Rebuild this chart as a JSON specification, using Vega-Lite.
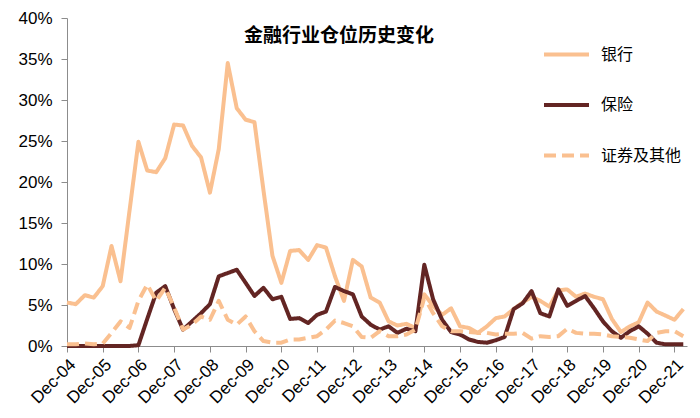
{
  "$schema": "https://vega.github.io/schema/vega-lite/v6.json",
  "autosize": "none",
  "width": 620,
  "height": 328,
  "padding": {"left": 67, "top": 18, "right": 13, "bottom": 72},
  "background": "white",
  "config": {"view": {"stroke": null}},
  "title": {"text": "金融行业仓位历史变化", "font": "Noto Sans CJK SC", "fontSize": 19, "fontWeight": "bold", "color": "#000000", "anchor": "middle", "baseline": "top", "offset": 0, "dx": -38, "dy": 37},
  "data": {"values": [
    {"d":"2004-12-01","银行":5.3,"保险":0,"证券及其他":0.2},
    {"d":"2005-03-01","银行":5.1,"保险":0,"证券及其他":0.2},
    {"d":"2005-06-01","银行":6.2,"保险":0,"证券及其他":0.3},
    {"d":"2005-09-01","银行":5.9,"保险":0,"证券及其他":0.2},
    {"d":"2005-12-01","银行":7.3,"保险":0,"证券及其他":0.3},
    {"d":"2006-03-01","银行":12.2,"保险":0,"证券及其他":1.6},
    {"d":"2006-06-01","银行":7.9,"保险":0,"证券及其他":3.0},
    {"d":"2006-09-01","银行":16.5,"保险":0,"证券及其他":2.2},
    {"d":"2006-12-01","银行":24.9,"保险":0.1,"证券及其他":5.5},
    {"d":"2007-03-01","银行":21.4,"保险":3.3,"证券及其他":7.5},
    {"d":"2007-06-01","银行":21.2,"保险":6.5,"证券及其他":5.5},
    {"d":"2007-09-01","银行":22.9,"保险":7.3,"证券及其他":7.1},
    {"d":"2007-12-01","银行":27.0,"保险":4.5,"证券及其他":4.7},
    {"d":"2008-03-01","银行":26.9,"保险":2.0,"证券及其他":2.0},
    {"d":"2008-06-01","银行":24.4,"保险":3.0,"证券及其他":2.6},
    {"d":"2008-09-01","银行":23.0,"保险":4.0,"证券及其他":3.6},
    {"d":"2008-12-01","银行":18.7,"保险":5.1,"证券及其他":3.2},
    {"d":"2009-03-01","银行":24.0,"保险":8.5,"证券及其他":5.5},
    {"d":"2009-06-01","银行":34.5,"保险":8.9,"证券及其他":3.2},
    {"d":"2009-09-01","银行":29.0,"保险":9.3,"证券及其他":2.6},
    {"d":"2009-12-01","银行":27.6,"保险":7.7,"证券及其他":3.6},
    {"d":"2010-03-01","银行":27.3,"保险":6.1,"证券及其他":1.8},
    {"d":"2010-06-01","银行":19.0,"保险":7.1,"证券及其他":0.6},
    {"d":"2010-09-01","银行":11.0,"保险":5.7,"证券及其他":0.4},
    {"d":"2010-12-01","银行":7.7,"保险":6.0,"证券及其他":0.4},
    {"d":"2011-03-01","银行":11.6,"保险":3.3,"证券及其他":0.8},
    {"d":"2011-06-01","银行":11.7,"保险":3.4,"证券及其他":0.8},
    {"d":"2011-09-01","银行":10.5,"保险":2.8,"证券及其他":1.0},
    {"d":"2011-12-01","银行":12.3,"保险":3.8,"证券及其他":1.2},
    {"d":"2012-03-01","银行":12.0,"保险":4.2,"证券及其他":2.0},
    {"d":"2012-06-01","银行":8.5,"保险":7.2,"证券及其他":3.1},
    {"d":"2012-09-01","银行":5.5,"保险":6.7,"证券及其他":2.8},
    {"d":"2012-12-01","银行":10.5,"保险":6.3,"证券及其他":2.4},
    {"d":"2013-03-01","银行":9.7,"保险":3.6,"证券及其他":1.1},
    {"d":"2013-06-01","银行":5.9,"保险":2.6,"证券及其他":1.0},
    {"d":"2013-09-01","银行":5.3,"保险":2.0,"证券及其他":1.8},
    {"d":"2013-12-01","银行":3.0,"保险":2.4,"证券及其他":1.2},
    {"d":"2014-03-01","银行":2.5,"保险":1.6,"证券及其他":1.2},
    {"d":"2014-06-01","银行":2.7,"保险":2.1,"证券及其他":1.4},
    {"d":"2014-09-01","银行":2.2,"保险":1.8,"证券及其他":2.0},
    {"d":"2014-12-01","银行":6.3,"保险":9.9,"证券及其他":5.9},
    {"d":"2015-03-01","银行":4.9,"保险":5.7,"证券及其他":4.0},
    {"d":"2015-06-01","银行":3.8,"保险":3.2,"证券及其他":2.4},
    {"d":"2015-09-01","银行":4.6,"保险":1.7,"证券及其他":1.8},
    {"d":"2015-12-01","银行":2.4,"保险":1.4,"证券及其他":1.8},
    {"d":"2016-03-01","银行":2.2,"保险":0.8,"证券及其他":1.7},
    {"d":"2016-06-01","银行":1.6,"保险":0.5,"证券及其他":1.6},
    {"d":"2016-09-01","银行":2.4,"保险":0.4,"证券及其他":1.6},
    {"d":"2016-12-01","银行":3.4,"保险":0.7,"证券及其他":1.4},
    {"d":"2017-03-01","银行":3.6,"保险":1.1,"证券及其他":1.5},
    {"d":"2017-06-01","银行":4.5,"保险":4.5,"证券及其他":1.5},
    {"d":"2017-09-01","银行":5.3,"保险":5.2,"证券及其他":1.6},
    {"d":"2017-12-01","银行":6.0,"保险":6.7,"证券及其他":0.9},
    {"d":"2018-03-01","银行":5.5,"保险":4.0,"证券及其他":1.2},
    {"d":"2018-06-01","银行":4.8,"保险":3.6,"证券及其他":1.1},
    {"d":"2018-09-01","银行":6.8,"保险":6.9,"证券及其他":1.2},
    {"d":"2018-12-01","银行":6.9,"保险":4.9,"证券及其他":2.1},
    {"d":"2019-03-01","银行":6.0,"保险":5.5,"证券及其他":1.6},
    {"d":"2019-06-01","银行":6.4,"保险":6.1,"证券及其他":1.5},
    {"d":"2019-09-01","银行":6.0,"保险":4.6,"证券及其他":1.5},
    {"d":"2019-12-01","银行":5.7,"保险":3.0,"证券及其他":1.4},
    {"d":"2020-03-01","银行":3.3,"保险":1.8,"证券及其他":1.2},
    {"d":"2020-06-01","银行":1.7,"保险":1.0,"证券及其他":1.1},
    {"d":"2020-09-01","银行":2.4,"保险":1.8,"证券及其他":1.0},
    {"d":"2020-12-01","银行":2.9,"保险":2.4,"证券及其他":0.8},
    {"d":"2021-03-01","银行":5.3,"保险":1.5,"证券及其他":0.6},
    {"d":"2021-06-01","银行":4.2,"保险":0.4,"证券及其他":1.6},
    {"d":"2021-09-01","银行":3.7,"保险":0.2,"证券及其他":1.8},
    {"d":"2021-12-01","银行":3.2,"保险":0.2,"证券及其他":1.8},
    {"d":"2022-03-01","银行":4.5,"保险":0.2,"证券及其他":1.2}
  ]},
  "transform": [{"fold": ["银行", "保险", "证券及其他"], "as": ["series", "v"]}],
  "mark": {"type": "line", "strokeWidth": 4, "strokeJoin": "round"},
  "encoding": {
    "x": {
      "field": "d", "type": "temporal",
      "scale": {"type": "utc", "domain": [{"year": 2004, "month": 12, "date": 1, "utc": true}, {"year": 2022, "month": 4, "date": 8, "utc": true}]},
      "axis": {
        "title": null, "grid": false, "format": "%b-%y", "labelAngle": -45, "labelAlign": "right", "labelBaseline": "top",
        "labelFont": "Liberation Sans", "labelFontSize": 17, "labelColor": "#000000", "labelPadding": 4,
        "domainColor": "#8c8c8c", "tickColor": "#8c8c8c", "tickSize": 6, "labelOverlap": false,
        "values": [
          {"year": 2004, "month": 12, "date": 1, "utc": true},
          {"year": 2005, "month": 12, "date": 1, "utc": true},
          {"year": 2006, "month": 12, "date": 1, "utc": true},
          {"year": 2007, "month": 12, "date": 1, "utc": true},
          {"year": 2008, "month": 12, "date": 1, "utc": true},
          {"year": 2009, "month": 12, "date": 1, "utc": true},
          {"year": 2010, "month": 12, "date": 1, "utc": true},
          {"year": 2011, "month": 12, "date": 1, "utc": true},
          {"year": 2012, "month": 12, "date": 1, "utc": true},
          {"year": 2013, "month": 12, "date": 1, "utc": true},
          {"year": 2014, "month": 12, "date": 1, "utc": true},
          {"year": 2015, "month": 12, "date": 1, "utc": true},
          {"year": 2016, "month": 12, "date": 1, "utc": true},
          {"year": 2017, "month": 12, "date": 1, "utc": true},
          {"year": 2018, "month": 12, "date": 1, "utc": true},
          {"year": 2019, "month": 12, "date": 1, "utc": true},
          {"year": 2020, "month": 12, "date": 1, "utc": true},
          {"year": 2021, "month": 12, "date": 1, "utc": true}
        ]
      }
    },
    "y": {
      "field": "v", "type": "quantitative",
      "scale": {"domain": [0, 40], "nice": false},
      "axis": {
        "title": null, "grid": false, "values": [0, 5, 10, 15, 20, 25, 30, 35, 40], "labelExpr": "datum.value + '%'",
        "labelFont": "Liberation Sans", "labelFontSize": 17, "labelColor": "#000000", "labelPadding": 9,
        "domainColor": "#8c8c8c", "tickColor": "#8c8c8c", "tickSize": 6
      }
    },
    "color": {
      "field": "series", "type": "nominal",
      "scale": {"domain": ["银行", "保险", "证券及其他"], "range": ["#FAC090", "#632523", "#FAC090"]},
      "legend": {
        "title": null, "orient": "none", "legendX": 475, "legendY": 12, "symbolType": "stroke", "symbolSize": 2025,
        "symbolStrokeWidth": 4, "labelFont": "Noto Sans CJK SC", "labelFontSize": 16, "labelColor": "#000000",
        "labelOffset": 10, "rowPadding": 17.5
      }
    },
    "strokeDash": {
      "field": "series", "type": "nominal",
      "scale": {"domain": ["银行", "保险", "证券及其他"], "range": [[1, 0], [1, 0], [12, 6]]},
      "legend": null
    }
  }
}
